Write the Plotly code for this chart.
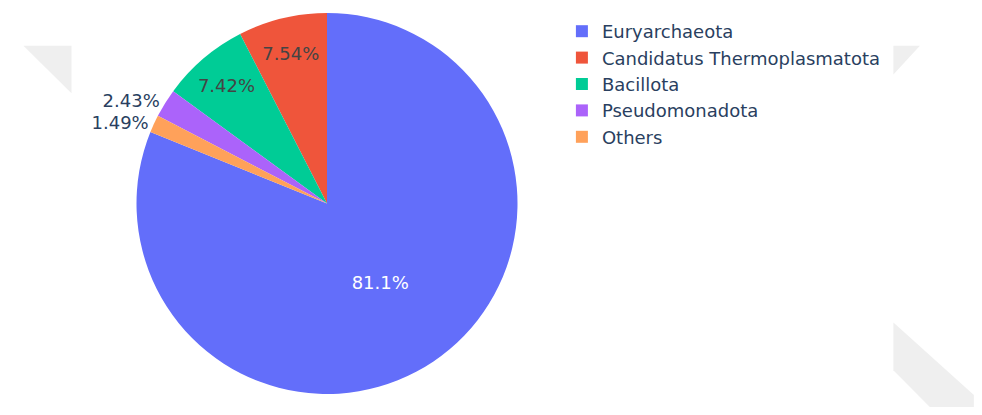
import plotly.graph_objects as go

labels = ["Euryarchaeota", "Candidatus Thermoplasmatota", "Bacillota", "Pseudomonadota", "Others"]
values = [81.12, 7.54, 7.42, 2.43, 1.49]

W, H = 966, 399
ML, MR, MT, MB = 80, 417, 2, 13
PW, PH = W - ML - MR, H - MT - MB
OFF = 8  # page body margin


def px(x, y):
    return (x - OFF - ML) / PW, 1 - (y - OFF - MT) / PH


def path(points):
    parts = []
    for i, (x, y) in enumerate(points):
        a, b = px(x, y)
        parts.append(("M" if i == 0 else "L") + f"{a:.4f},{b:.4f}")
    return " ".join(parts) + " Z"


watermark = [
    [(13, 43), (62, 43), (62, 91)],
    [(900, 43), (927, 43), (900, 72)],
    [(900, 322), (982, 395), (982, 415), (945, 415), (900, 370)],
]

fig = go.Figure(
    go.Pie(
        labels=labels,
        values=values,
        textinfo="percent",
    )
)

fig.update_layout(
    template="plotly_white",
    width=W,
    height=H,
    margin=dict(l=ML, r=MR, t=MT, b=MB),
    font=dict(family="DejaVu Sans, Verdana, sans-serif", size=18),
    legend=dict(x=(554 - ML) / PW, y=1, xanchor="left", yanchor="top"),
    shapes=[
        dict(type="path", xref="paper", yref="paper", path=path(p),
             fillcolor="#efefef", line=dict(width=0), layer="below")
        for p in watermark
    ],
)

fig.write_html("out.html")
